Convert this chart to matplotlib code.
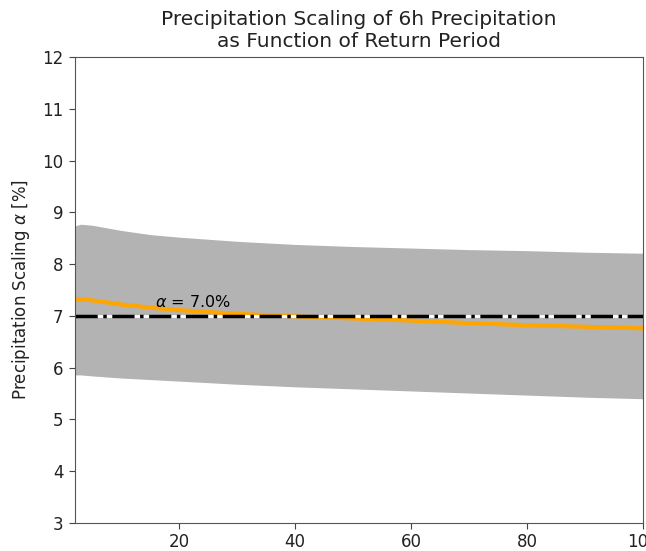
import numpy as np
import matplotlib
matplotlib.use("Agg")
import matplotlib.pyplot as plt

# Return periods (years) and scaling values
return_period = [2, 3, 5, 10, 15, 20, 30, 40, 50, 60, 70, 80, 90, 100]
alpha_mean = [7.32, 7.32, 7.30, 7.22, 7.16, 7.11, 7.04, 6.99, 6.95, 6.91, 6.86, 6.82, 6.79, 6.76]
alpha_upper = [8.74, 8.77, 8.75, 8.65, 8.57, 8.52, 8.44, 8.38, 8.34, 8.31, 8.28, 8.26, 8.23, 8.21]
alpha_lower = [5.86, 5.86, 5.84, 5.80, 5.77, 5.74, 5.68, 5.63, 5.59, 5.55, 5.51, 5.47, 5.43, 5.40]
alpha_cc = 7.0

fig = plt.figure(figsize=(6.46, 5.51), dpi=100)
ax = fig.add_axes([75 / 646, 1 - 523 / 551, (643 - 75) / 646, (523 - 57) / 551])

ax.fill_between(return_period, alpha_lower, alpha_upper, color='#b3b3b3', linewidth=0)
ax.plot(return_period, alpha_mean, color='orange', linewidth=3)
ax.axhline(alpha_cc, color='white', linewidth=2)
ax.axhline(alpha_cc, color='black', linewidth=2.5, linestyle='-.')
ax.text(15.8, 7.18, r'$\alpha$ = %.1f%%' % alpha_cc, fontsize=11.5, va='baseline')

ax.set_xlim(2, 100)
ax.set_ylim(3, 12)
ax.set_xticks([20, 40, 60, 80, 100])
ax.set_yticks(range(3, 13))
ax.tick_params(labelsize=12, length=4.2, pad=4.2, color='#444444', labelcolor='#222222')
ax.tick_params(axis='x', pad=3)
for s in ax.spines.values():
    s.set_color('#555555')

ax.set_title('Precipitation Scaling of 6h Precipitation\nas Function of Return Period',
             fontsize=14.5, pad=7, color='#222222')
ax.set_ylabel(r'Precipitation Scaling $\alpha$ [%]', fontsize=12, labelpad=7, color='#222222')
ax.set_xlabel('Return Period [years]', fontsize=12, color='#222222')

fig.savefig('out.png', dpi=100)
